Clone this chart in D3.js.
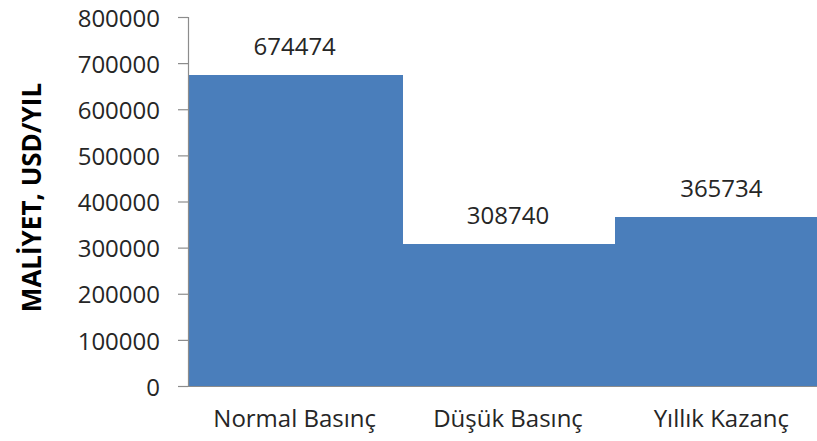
<!DOCTYPE html>
<html>
<head>
<meta charset="utf-8">
<script src="https://cdn.jsdelivr.net/npm/d3@7"></script>
<style>
  html, body { margin: 0; padding: 0; background: #fff; }
  svg { display: block; }
</style>
</head>
<body>
<svg id="chart" width="817" height="441"></svg>
<script>
// Annual cost by operating pressure, USD/year
const categories = ["Normal Basınç", "Düşük Basınç", "Yıllık Kazanç"];
const values = [674474, 308740, 365734];
const yTicks = [0, 100000, 200000, 300000, 400000, 500000, 600000, 700000, 800000];
const yTitle = "MALİYET, USD/YIL";

const svg = d3.select("#chart");
const font = "'Open Sans', 'DejaVu Sans', sans-serif";
const textColor = "#262626";
const axisColor = "#8c8c8c";
const barColor = "#4a7ebb";

const plot = { left: 188, right: 828, top: 17, bottom: 386 };

const x = d3.scaleBand()
  .domain(categories)
  .range([plot.left, plot.right])
  .padding(0);

const y = d3.scaleLinear()
  .domain([0, 800000])
  .range([plot.bottom, plot.top]);

// Bars (adjacent, no gap between categories)
svg.append("g")
  .attr("shape-rendering", "crispEdges")
  .selectAll("rect")
  .data(values)
  .join("rect")
  .attr("x", (d, i) => Math.round(x(categories[i])))
  .attr("y", d => y(d))
  .attr("width", Math.ceil(x.bandwidth()) + 1)
  .attr("height", d => y(0) - y(d))
  .attr("fill", barColor);

// Y axis
const yAxis = svg.append("g")
  .attr("transform", `translate(${plot.left},0)`)
  .call(d3.axisLeft(y).tickValues(yTicks).tickSize(10).tickPadding(18).tickFormat(d3.format("d")));
yAxis.select(".domain").attr("stroke", axisColor).attr("stroke-width", 1.2);
yAxis.selectAll(".tick line").attr("stroke", axisColor).attr("stroke-width", 1.2);
yAxis.selectAll(".tick text")
  .attr("fill", textColor)
  .attr("dy", "0.38em")
  .style("font-family", font)
  .style("font-size", "24px");

// X axis
const xAxis = svg.append("g")
  .attr("transform", `translate(0,${plot.bottom})`)
  .call(d3.axisBottom(x).tickSize(0).tickPadding(24));
xAxis.select(".domain")
  .attr("stroke", axisColor).attr("stroke-width", 1.2)
  .attr("d", `M${plot.left - 10},0.5H${plot.right}`);
xAxis.selectAll(".tick text")
  .attr("fill", textColor)
  .style("font-family", font)
  .style("font-size", "24px");

// Value labels above bars
svg.append("g")
  .selectAll("text")
  .data(values)
  .join("text")
  .attr("x", (d, i) => x(categories[i]) + x.bandwidth() / 2)
  .attr("y", d => y(d) - 20)
  .attr("text-anchor", "middle")
  .attr("fill", textColor)
  .style("font-family", font)
  .style("font-size", "24px")
  .text(d => d);

// Y axis title
svg.append("text")
  .attr("transform", `translate(41,${(plot.top + plot.bottom) / 2 - 4}) rotate(-90)`)
  .attr("text-anchor", "middle")
  .attr("fill", "#000")
  .style("font-family", font)
  .style("font-weight", "bold")
  .style("font-size", "26px")
  .text(yTitle);
</script>
</body>
</html>
